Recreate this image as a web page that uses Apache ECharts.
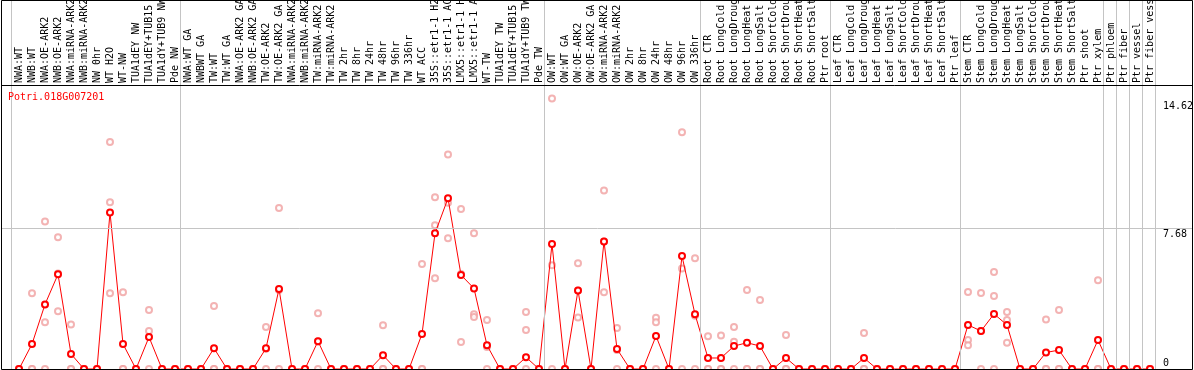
<!DOCTYPE html>
<html>
<head>
<meta charset="utf-8">
<script src="https://cdn.jsdelivr.net/npm/echarts@6/dist/echarts.min.js"></script>
<style>
html,body{margin:0;padding:0;background:#fff;}
#chart{width:1194px;height:370px;}
</style>
</head>
<body>
<div id="chart"></div>
<script>
const geneTitle = 'Potri.018G007201';

const categories = [
 'NWA:WT','NWB:WT','NWA:OE-ARK2','NWB:OE-ARK2','NWA:miRNA-ARK2','NWB:miRNA-ARK2','NW 0hr','WT H2O','WT-NW','TUA1dEY NW',
 'TUA1dEY+TUB15 NW','TUA1dY+TUB9 NW','Pde NW','NWA:WT GA','NWBWT GA','TW:WT','TW:WT GA','NWA:OE-ARK2 GA','NWB:OE-ARK2 GA','TW:OE-ARK2',
 'TW:OE-ARK2 GA','NWA:miRNA-ARK2','NWB:miRNA-ARK2','TW:miRNA-ARK2','TW:miRNA-ARK2','TW 2hr','TW 8hr','TW 24hr','TW 48hr','TW 96hr',
 'TW 336hr','WT ACC','35S::etr1-1 H2O','35S::etr1-1 ACC','LMX5::etr1-1 H2O','LMX5::etr1-1 ACC','WT-TW','TUA1dEY TW','TUA1dEY+TUB15 TW','TUA1dY+TUB9 TW',
 'Pde TW','OW:WT','OW:WT GA','OW:OE-ARK2','OW:OE-ARK2 GA','OW:miRNA-ARK2','OW:miRNA-ARK2','OW 2hr','OW 8hr','OW 24hr',
 'OW 48hr','OW 96hr','OW 336hr','Root CTR','Root LongCold','Root LongDrought','Root LongHeat','Root LongSalt','Root ShortCold','Root ShortDrought',
 'Root ShortHeat','Root ShortSalt','Ptr root','Leaf CTR','Leaf LongCold','Leaf LongDrought','Leaf LongHeat','Leaf LongSalt','Leaf ShortCold','Leaf ShortDrought',
 'Leaf ShortHeat','Leaf ShortSalt','Ptr leaf','Stem CTR','Stem LongCold','Stem LongDrought','Stem LongHeat','Stem LongSalt','Stem ShortCold','Stem ShortDrought',
 'Stem ShortHeat','Stem ShortSalt','Ptr shoot','Ptr xylem','Ptr phloem','Ptr fiber','Ptr vessel','Ptr fiber vessel'
];

const meanValues = [
 0,1.36,3.52,5.16,0.82,0,0,8.53,1.36,0,
 1.74,0,0,0,0,1.13,0,0,0,1.13,
 4.36,0,0,1.51,0,0,0,0,0.75,0,
 0,1.91,7.39,9.30,5.12,4.39,1.29,0,0,0.64,
 0,6.81,0,4.28,0,6.95,1.09,0,0,1.80,
 0,6.15,2.98,0.60,0.60,1.25,1.43,1.25,0,0.60,
 0,0,0,0,0,0.60,0,0,0,0,
 0,0,0,2.40,2.07,3.00,2.40,0,0,0.90,
 1.03,0,0,1.58,0,0,0,0
];

const rep1 = [
 0,4.12,8.04,7.17,2.43,0,0,12.36,4.18,0,
 3.21,0,0,0,0,3.43,0,0,0,2.29,
 8.77,0,0,3.03,0,0,0,0,2.38,0,
 0,5.72,9.35,11.69,8.71,7.39,2.67,0,0,3.10,
 0,14.74,0,5.76,0,9.73,2.23,0,0,2.79,
 0,12.89,6.03,1.78,1.83,2.29,4.30,3.76,0,1.85,
 0,0,0,0,0,1.96,0,0,0,0,
 0,0,0,4.19,4.14,5.28,3.10,0,0,2.70,
 3.21,0,0,4.83,0,0,0,0
];

const rep2 = [
 0,0,2.54,3.14,0,0,0,9.08,0,0,
 2.07,0,0,0,0,0,0,0,0,1.10,
 4.30,0,0,1.50,0,0,0,0,0,0,
 0,0,7.83,9.06,5.18,2.98,1.20,0,0,2.12,
 0,5.65,0,2.81,0,4.18,1.04,0,0,2.54,
 0,5.48,2.90,0,0,1.49,0,0,0,0,
 0,0,0,0,0,0,0,0,0,0,
 0,0,0,1.58,2.07,3.98,2.67,0,0,0,
 0,0,0,0,0,0,0,0
];

const rep3 = [
 0,0,0,5.20,0,0,0,4.12,0,0,
 0,0,0,0,0,0,0,0,0,0,
 0,0,0,0,0,0,0,0,0,0,
 0,0,4.94,7.12,1.47,2.83,0,0,0,0,
 0,0,0,4.27,0,6.94,0,0,0,0,
 0,0,0,0,0,0,0,0,0,0,
 0,0,0,0,0,0,0,0,0,0,
 0,0,0,1.30,0,0,1.43,0,0,0,
 0,0,0,0,0,0,0,0
];

// category index where each separator line sits (group boundaries)
const groupBounds = [0,13,41,53,63,73,84,85,86,87,88];
const yTickLabels = [0, 7.68, 14.62];
const refLineValue = 7.68;
const yMax = 15.47;

const FONT = 'DejaVu Sans Mono';
const repColor = '#f0a0a0';
const mainColor = '#ff0000';

const repSeries = [rep1, rep2, rep3].map(function (arr) {
  return {
    type: 'scatter',
    xAxisIndex: 0, yAxisIndex: 0,
    data: arr.map(function (v, i) { return [i, v]; }),
    symbol: 'emptyCircle',
    symbolSize: 6,
    itemStyle: { color: repColor, borderColor: repColor, borderWidth: 1.2 },
    silent: true,
    z: 2
  };
});

const chart = echarts.init(document.getElementById('chart'), null, { renderer: 'canvas' });
chart.setOption({
  animation: false,
  backgroundColor: '#fff',
  title: {
    text: geneTitle,
    left: 8, top: 92,
    padding: 0,
    textStyle: { color: mainColor, fontSize: 10, fontWeight: 'normal', fontFamily: FONT }
  },
  grid: [
    { left: 12.5, right: 37.5, top: 85, bottom: 1, containLabel: false, outerBoundsMode: 'none' },
    { left: 11.5, right: 38.5, top: 0, bottom: 1, containLabel: false, outerBoundsMode: 'none' }
  ],
  xAxis: [
    {
      type: 'category', gridIndex: 0, position: 'top',
      data: categories,
      boundaryGap: true,
      axisLine: { show: false },
      axisTick: { show: false },
      splitLine: { show: false },
      axisLabel: {
        interval: 0, rotate: 90, margin: 2, hideOverlap: false,
        color: '#000', fontSize: 10, fontFamily: FONT
      }
    },
    { type: 'value', gridIndex: 1, min: 0, max: categories.length, show: false }
  ],
  yAxis: [
    {
      type: 'value', gridIndex: 0, position: 'right',
      min: 0, max: yMax,
      axisLine: { show: false },
      axisTick: { show: false },
      splitLine: { show: false },
      axisLabel: {
        customValues: yTickLabels,
        margin: 6.5,
        color: '#000', fontSize: 10, fontFamily: FONT,
        formatter: function (v) { return v === 0 ? '{b|0}' : '{t|' + v + '}'; },
        rich: {
          t: { padding: [12, 0, 0, 0], lineHeight: 10, fontSize: 10, fontFamily: FONT, color: '#000' },
          b: { padding: [0, 0, 12, 0], lineHeight: 10, fontSize: 10, fontFamily: FONT, color: '#000' }
        }
      }
    },
    { type: 'value', gridIndex: 1, min: 0, max: 1, show: false }
  ],
  graphic: [
    { type: 'rect', silent: true, z: 100,
      shape: { x: 1.5, y: 0.5, width: 1191, height: 369 },
      style: { fill: 'none', stroke: '#000', lineWidth: 1 } },
    { type: 'line', silent: true, z: 100,
      shape: { x1: 1.5, y1: 85.5, x2: 1192.5, y2: 85.5 },
      style: { stroke: '#000', lineWidth: 1 } }
  ],
  series: [
    {
      type: 'line', xAxisIndex: 1, yAxisIndex: 1,
      data: [[0, 0]], showSymbol: false, lineStyle: { opacity: 0 }, silent: true,
      markLine: {
        silent: true, symbol: 'none', animation: false,
        label: { show: false },
        lineStyle: { color: '#c4c4c4', type: 'solid', width: 1 },
        data: groupBounds.map(function (b) { return { xAxis: b }; })
      },
      z: 1
    },
    {
      type: 'line', xAxisIndex: 0, yAxisIndex: 0,
      data: [], silent: true, showSymbol: false,
      markLine: {
        silent: true, symbol: 'none', animation: false,
        label: { show: false },
        lineStyle: { color: '#c4c4c4', type: 'solid', width: 1 },
        data: [[{ yAxis: refLineValue, x: 2 }, { yAxis: refLineValue, x: 1193 }]]
      },
      z: 1
    }
  ].concat(repSeries).concat([
    {
      type: 'line', xAxisIndex: 0, yAxisIndex: 0,
      data: meanValues,
      symbol: 'emptyCircle', symbolSize: 6, showAllSymbol: true,
      lineStyle: { color: mainColor, width: 1 },
      itemStyle: { color: mainColor, borderColor: mainColor, borderWidth: 1.6 },
      silent: true,
      z: 3
    }
  ])
});
</script>
</body>
</html>
